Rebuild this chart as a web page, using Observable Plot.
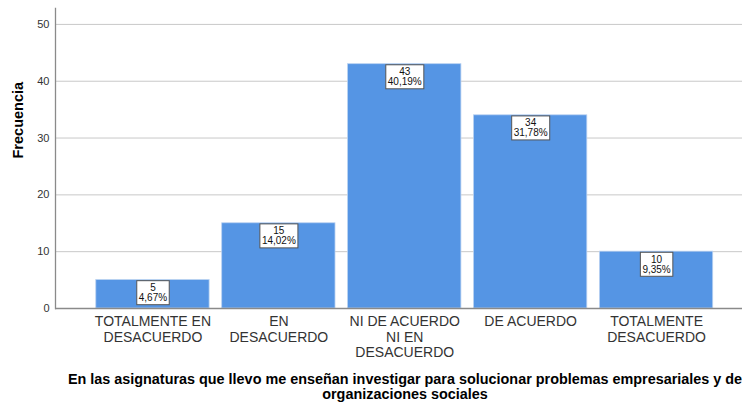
<!DOCTYPE html>
<html>
<head>
<meta charset="utf-8">
<script src="https://cdn.jsdelivr.net/npm/d3@7"></script>
<script src="https://cdn.jsdelivr.net/npm/@observablehq/plot@0.6"></script>
<style>
  html, body { margin: 0; padding: 0; background: #fff; }
  svg { font-family: "Liberation Sans", Arial, sans-serif; }
</style>
</head>
<body>
<div id="chart"></div>
<script>
const categories = [
  "TOTALMENTE EN\nDESACUERDO",
  "EN\nDESACUERDO",
  "NI DE ACUERDO\nNI EN\nDESACUERDO",
  "DE ACUERDO",
  "TOTALMENTE\nDESACUERDO"
];
const counts = [5, 15, 43, 34, 10];
const percents = ["4,67%", "14,02%", "40,19%", "31,78%", "9,35%"];
const yTicks = [0, 10, 20, 30, 40, 50];
const yTitle = "Frecuencia";
const xTitle = "En las asignaturas que llevo me enseñan investigar para solucionar problemas empresariales y de\norganizaciones sociales";

const data = categories.map((c, i) => ({cat: c, value: counts[i], pct: percents[i]}));

const chart = Plot.plot({
  width: 742,
  height: 405,
  marginLeft: 55,
  marginRight: 0,
  marginTop: 8,
  marginBottom: 97,
  style: {fontFamily: "'Liberation Sans', Arial, sans-serif", background: "#fff"},
  x: {domain: categories, range: [89.5, 719], paddingInner: 0.1, paddingOuter: 0.05, round: false, label: null},
  y: {domain: [0, 52.8], label: null},
  marks: [
    Plot.gridY(yTicks, {stroke: "#c8c8c8", strokeOpacity: 1}),
    Plot.barY(data, {x: "cat", y: "value", fill: "#5595e4", stroke: "#b9d1f1", strokeWidth: 0.8}),
    Plot.ruleY([0], {stroke: "#8a8a8a", strokeWidth: 1.3}),
    Plot.frame({anchor: "left", stroke: "#8a8a8a", strokeWidth: 1.3}),
    Plot.axisY(yTicks, {tickSize: 0, tickPadding: 6, fontSize: 11, fill: "#333", label: null}),
    Plot.axisX({tickSize: 0, tickPadding: 7, fontSize: 14, fill: "#333", lineHeight: 1.1, label: null}),
    Plot.text(data, {
      x: "cat", y: "value",
      text: d => `${d.value}\n${d.pct}`,
      lineAnchor: "top", dy: 4, fontSize: 10, lineHeight: 1.0, fill: "#111",
      className: "barlabel"
    }),
    Plot.text([yTitle], {frameAnchor: "left", rotate: -90, dx: -37, fontSize: 14.5, fontWeight: "bold", fill: "#000"}),
    Plot.text([xTitle], {frameAnchor: "bottom", lineAnchor: "top", dy: 65, dx: 6, fontSize: 14.4, fontWeight: "bold", lineHeight: 1.04, fill: "#000"})
  ]
});

document.getElementById("chart").appendChild(chart);

// draw white boxes behind the bar labels
const g = chart.querySelector("g.barlabel") || Array.from(chart.querySelectorAll("g[aria-label='text']"))[0];
if (g) {
  g.querySelectorAll("text").forEach(t => {
    const b = t.getBBox();
    const ns = "http://www.w3.org/2000/svg";
    const r = document.createElementNS(ns, "rect");
    const padX = 2, padY = 1.5;
    r.setAttribute("x", b.x - padX);
    r.setAttribute("y", b.y - padY);
    r.setAttribute("width", b.width + 2 * padX);
    r.setAttribute("height", b.height + 2 * padY);
    r.setAttribute("fill", "#fff");
    r.setAttribute("stroke", "#555");
    r.setAttribute("stroke-width", "1");
    const tr = t.getAttribute("transform");
    if (tr) r.setAttribute("transform", tr);
    t.parentNode.insertBefore(r, t);
  });
}
</script>
</body>
</html>
